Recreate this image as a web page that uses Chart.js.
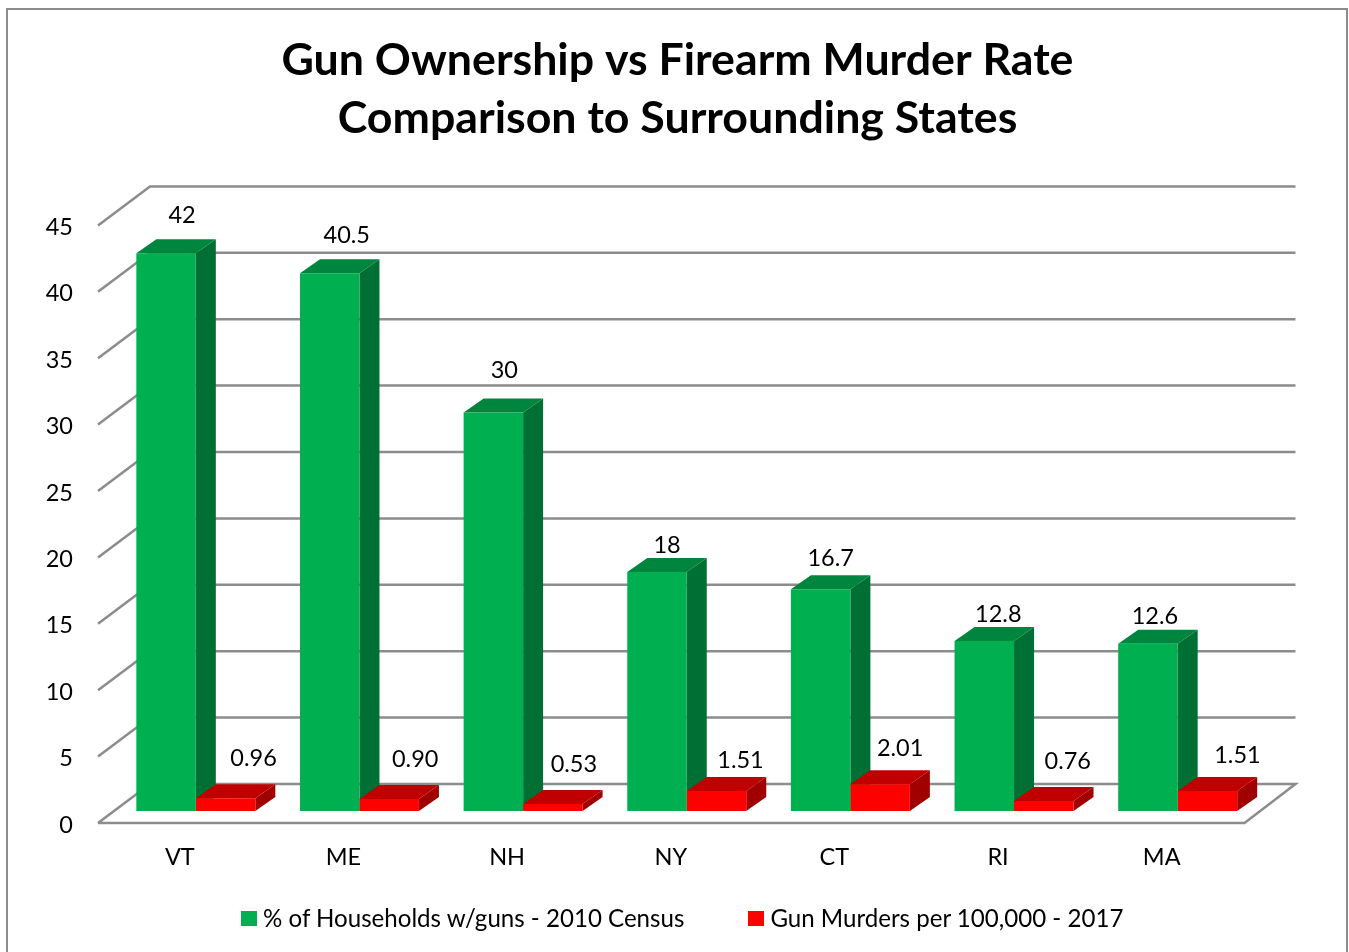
<!DOCTYPE html>
<html>
<head>
<meta charset="utf-8">
<title>Gun Ownership vs Firearm Murder Rate</title>
<script src="https://cdn.jsdelivr.net/npm/chart.js@4"></script>
<style>
    html, body { margin: 0; padding: 0; background: #fff; overflow: hidden; }
    #wrap { position: relative; width: 1349px; height: 952px; }
    #legend { position: absolute; left: 241px; top: 903px; display: flex; font: 24.1px Lato, sans-serif; color: #000; line-height: 30px; white-space: nowrap; }
    #legend span.item { display: flex; align-items: center; }
    #legend span.box { display: inline-block; width: 16px; height: 15px; margin-right: 6px; }
</style>
</head>
<body>
<div id="wrap">
    <canvas id="gunChart" width="1349" height="952"></canvas>
    <div id="legend"></div>
</div>
<script>
const states = ['VT', 'ME', 'NH', 'NY', 'CT', 'RI', 'MA'];
const gunOwnership = [42, 40.5, 30, 18, 16.7, 12.8, 12.6];
const gunMurders = [0.96, 0.90, 0.53, 1.51, 2.01, 0.76, 1.51];
const yTicks = [0, 5, 10, 15, 20, 25, 30, 35, 40, 45];
const seriesNames = ['% of Households w/guns - 2010 Census', 'Gun Murders per 100,000 - 2017'];

// label nudges, the original labels were placed by hand
const labelNudge = [
    [[16, -37.5], [17, -37.5], [11, -42.5], [10, -26.5], [10, -30.5], [14, -26.5], [7, -27.5]],
    [[28, -39.5], [26, -39.5], [21, -39.5], [24, -30.5], [20, -35.5], [24, -39.5], [30, -35.5]]
];

const FONT = 'Lato, sans-serif';
const GRID = '#8c8c8c';
const faces = [
    { top: '#00853e', side: '#006f33' },
    { top: '#c00000', side: '#a00000' }
];

function poly(ctx, pts, color) {
    ctx.fillStyle = color;
    ctx.beginPath();
    pts.forEach(function(p, i) { i ? ctx.lineTo(p[0], p[1]) : ctx.moveTo(p[0], p[1]); });
    ctx.closePath();
    ctx.fill();
}

// outer frame of the chart
const framePlugin = {
    id: 'frame',
    beforeDraw(chart) {
        const ctx = chart.ctx;
        ctx.save();
        ctx.strokeStyle = GRID;
        ctx.lineWidth = 2;
        ctx.strokeRect(7, 9, 1340, 980);
        ctx.restore();
    }
};

// walls, floor and the sides of the bars
const depthPlugin = {
    id: 'depth',
    beforeDatasetsDraw(chart) {
        const ctx = chart.ctx;
        const area = chart.chartArea;
        const y = chart.scales.y;
        const xFront = area.left - 16, xEnd = area.right - 15;
        ctx.save();
        ctx.strokeStyle = GRID;
        ctx.lineWidth = 2.5;
        yTicks.forEach(function(v) {
            const py = y.getPixelForValue(v);
            ctx.beginPath();
            ctx.moveTo(xFront, py + 12);
            ctx.lineTo(xFront + 52, py - 27);
            ctx.lineTo(xEnd + 51, py - 27);
            if (v === 0) {
                ctx.lineTo(xEnd, py + 12);
                ctx.lineTo(xFront, py + 12);
            }
            ctx.stroke();
        });
        const dx = 20, dy = 14;
        chart.data.datasets.forEach(function(ds, d) {
            chart.getDatasetMeta(d).data.forEach(function(bar) {
                const l = bar.x - bar.width / 2, r = bar.x + bar.width / 2;
                poly(ctx, [[r, bar.y], [r + dx, bar.y - dy], [r + dx, bar.base - dy], [r, bar.base]], faces[d].side);
                poly(ctx, [[l, bar.y], [l + dx, bar.y - dy], [r + dx, bar.y - dy], [r, bar.y]], faces[d].top);
            });
        });
        ctx.restore();
    }
};

const valueLabelPlugin = {
    id: 'valueLabels',
    afterDatasetsDraw(chart) {
        const ctx = chart.ctx;
        ctx.save();
        ctx.font = '23.5px ' + FONT;
        ctx.fillStyle = '#000';
        ctx.textAlign = 'center';
        ctx.textBaseline = 'middle';
        chart.data.datasets.forEach(function(ds, d) {
            chart.getDatasetMeta(d).data.forEach(function(bar, i) {
                const text = d === 1 ? ds.data[i].toFixed(2) : String(ds.data[i]);
                ctx.fillText(text, bar.x + labelNudge[d][i][0], bar.y + labelNudge[d][i][1]);
            });
        });
        ctx.restore();
    }
};

const chart = new Chart(document.getElementById('gunChart'), {
    type: 'bar',
    data: {
        labels: states,
        datasets: [
            { label: seriesNames[0], data: gunOwnership, backgroundColor: '#00b050', categoryPercentage: 0.727, barPercentage: 1 },
            { label: seriesNames[1], data: gunMurders, backgroundColor: '#ff0000', categoryPercentage: 0.727, barPercentage: 1 }
        ]
    },
    options: {
        responsive: false,
        animation: false,
        // the title sits 3px right of the page centre in the original
        layout: { padding: { left: 6 } },
        scales: {
            x: {
                grid: { display: false, drawTicks: false },
                border: { display: false },
                ticks: { color: '#000', font: { family: FONT, size: 23.5 }, padding: 32, labelOffset: -16, maxRotation: 0 },
                afterFit(scale) { scale.height = 141; }
            },
            y: {
                min: 0,
                max: 45,
                grid: { display: false, drawTicks: false },
                border: { display: false },
                ticks: { color: '#000', font: { family: FONT, size: 23.5 }, padding: 41, stepSize: 5, labelOffset: 14 },
                afterFit(scale) { scale.width = 108; }
            },
            // empty axis, holds the right margin without moving the title
            spacer: {
                position: 'right',
                grid: { display: false, drawTicks: false },
                border: { display: false },
                ticks: { display: false },
                afterFit(scale) { scale.width = 89.5; }
            }
        },
        plugins: {
            legend: { display: false },
            tooltip: { enabled: false },
            title: {
                display: true,
                text: ['Gun Ownership vs Firearm Murder Rate', 'Comparison to Surrounding States'],
                color: '#000',
                font: { family: FONT, size: 44.7, weight: 'bold', lineHeight: 1.2975 },
                padding: { top: 32, bottom: 65.4 }
            }
        }
    },
    plugins: [framePlugin, depthPlugin, valueLabelPlugin]
});

// legend in html, the swatch sits closer to the text than the built-in one allows
const legendEl = document.getElementById('legend');
chart.data.datasets.forEach(function(ds, i) {
    const item = document.createElement('span');
    item.className = 'item';
    if (i > 0) item.style.marginLeft = '64px';
    const box = document.createElement('span');
    box.className = 'box';
    box.style.background = ds.backgroundColor;
    item.appendChild(box);
    item.appendChild(document.createTextNode(ds.label));
    legendEl.appendChild(item);
});
</script>
</body>
</html>
